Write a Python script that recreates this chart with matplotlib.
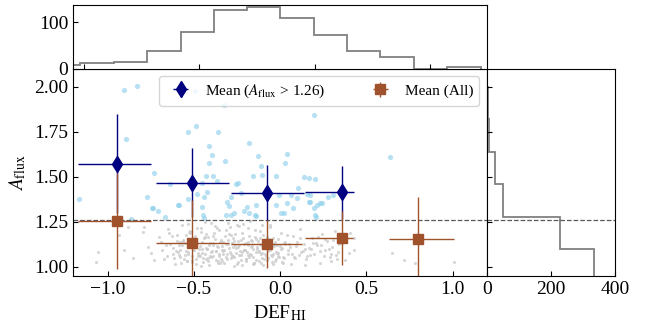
import matplotlib
matplotlib.use("Agg")
import matplotlib.pyplot as plt

plt.rcParams["font.family"] = "serif"
plt.rcParams["font.serif"] = ["Liberation Serif", "DejaVu Serif"]
plt.rcParams["mathtext.fontset"] = "stix"
plt.rcParams["xtick.direction"] = "in"
plt.rcParams["ytick.direction"] = "in"

# --- scatter points (DEF_HI, A_flux) ---
blue_def = [-1.164, -0.903, -0.829, -0.895, -0.729, -0.772, -0.743, -0.710, -0.668, -0.637,
            -0.589, -0.536, -0.487, -0.531, -0.479, -0.450, -0.440, -0.452, -0.421, -0.431,
            -0.389, -0.413, -0.394, -0.409, -0.357, -0.319, -0.367, -0.325, -0.492, -0.305,
            -0.294, -0.311, -0.257, -0.244, -0.286, -0.228, -0.180, -0.157, -0.126, -0.113,
            -0.105, -0.194, -0.142, -0.267, -0.209, -0.182, -0.140, -0.022, -0.007, 0.026,
            0.042, -0.026, 0.003, 0.022, 0.065, 0.103, 0.138, 0.166, 0.201, 0.195,
            0.099, 0.157, 0.176, 0.215, 0.244, 0.042, 0.074, 0.199, 0.635, 0.307,
            0.279, 0.171, 0.209, -0.739, -0.585, -0.448, -0.440, -0.286, -0.147, 0.166,
            0.234, 0.205, -0.864]
blue_aflux = [1.374, 1.982, 2.004, 1.708, 1.519, 1.386, 1.328, 1.306, 1.278, 1.459,
              1.344, 1.748, 1.782, 1.374, 1.404, 1.333, 1.389, 1.467, 1.415, 1.504,
              1.504, 1.671, 1.619, 1.578, 1.750, 1.589, 1.478, 1.900, 1.978, 1.357,
              1.339, 1.287, 1.459, 1.467, 1.386, 1.408, 1.689, 1.504, 1.617, 1.559,
              1.508, 1.333, 1.341, 1.296, 1.306, 1.296, 1.282, 1.504, 1.400, 1.578,
              1.626, 1.343, 1.296, 1.300, 1.398, 1.436, 1.497, 1.491, 1.489, 1.843,
              1.380, 1.404, 1.397, 1.343, 1.352, 1.352, 1.324, 1.324, 1.608, 1.397,
              1.386, 1.356, 1.278, 1.324, 1.343, 1.287, 1.269, 1.287, 1.287, 1.361,
              1.352, 1.287, 1.263]

gray_def = [-1.057, -1.066, -0.932, -0.903, -0.854, -0.796, -0.787, -0.768, -0.749, -0.729,
            -0.854, -0.883, 0.649, 0.716, 0.783, 1.009, 0.408, 0.427, 0.427, 0.398,
            -0.703, -0.684, -0.671, -0.648, -0.637, -0.623, -0.607, -0.596, -0.588, -0.579,
            -0.566, -0.561, -0.547, -0.538, -0.529, -0.517, -0.508, -0.497, -0.489, -0.481,
            -0.468, -0.459, -0.451, -0.437, -0.428, -0.419, -0.411, -0.398, -0.391, -0.377,
            -0.369, -0.361, -0.352, -0.339, -0.331, -0.318, -0.309, -0.297, -0.291, -0.279,
            -0.268, -0.262, -0.249, -0.241, -0.229, -0.218, -0.212, -0.198, -0.187, -0.178,
            -0.171, -0.159, -0.147, -0.139, -0.128, -0.121, -0.108, -0.097, -0.088, -0.081,
            -0.069, -0.058, -0.051, -0.038, -0.031, -0.018, -0.009, 0.004, 0.017, 0.031,
            0.048, 0.061, 0.077, 0.092, 0.108, 0.118, 0.139, 0.152, 0.168, 0.183,
            0.197, 0.212, 0.229, 0.241, 0.258, 0.271, 0.288, 0.302, 0.318, 0.337,
            0.361, 0.377, -0.661, -0.628, -0.593, -0.572, -0.551, -0.522, -0.503, -0.482,
            -0.463, -0.441, -0.422, -0.402, -0.382, -0.358, -0.342, -0.322, -0.302, -0.283,
            -0.259, -0.238, -0.221, -0.203, -0.181, -0.162, -0.141, -0.119, -0.102, -0.079,
            -0.062, -0.042, -0.021, 0.012, 0.038, 0.072, 0.101, 0.131, 0.158, 0.191,
            0.219, 0.252, 0.281, 0.309, 0.331, 0.352, -0.618, -0.577, -0.532, -0.493,
            -0.452, -0.428, -0.389, -0.351, -0.328, -0.292, -0.271, -0.232, -0.209, -0.191,
            -0.168, -0.131, -0.112, -0.091, -0.071, -0.029, -0.011, 0.022, 0.058, 0.121,
            0.178, 0.238, 0.298, -0.612, -0.541, -0.472, -0.398, -0.336, -0.277, -0.196,
            -0.151, -0.073, 0.009, 0.087, 0.142,
            # dense core, second pass
            -0.583, -0.571, -0.556, -0.543, -0.534, -0.519, -0.511, -0.501, -0.486, -0.474,
            -0.466, -0.455, -0.444, -0.433, -0.426, -0.415, -0.406, -0.394, -0.386, -0.373,
            -0.364, -0.356, -0.344, -0.335, -0.326, -0.314, -0.305, -0.294, -0.286, -0.274,
            -0.265, -0.254, -0.246, -0.235, -0.226, -0.214, -0.206, -0.195, -0.184, -0.175,
            -0.164, -0.154, -0.144, -0.135, -0.124, -0.115, -0.104, -0.094, -0.084, -0.075,
            -0.066, -0.055, -0.046, -0.035, -0.025, -0.014, -0.004, 0.007, 0.026, 0.044,
            -0.578, -0.562, -0.549, -0.527, -0.513, -0.494, -0.478, -0.461, -0.447, -0.431,
            -0.417, -0.404, -0.388, -0.371, -0.357, -0.346, -0.329, -0.312, -0.299, -0.284,
            -0.271, -0.257, -0.243, -0.227, -0.211, -0.199, -0.183, -0.169, -0.153, -0.138,
            -0.122, -0.109, -0.092, -0.078, -0.061, -0.047, -0.033, -0.016, 0.002, 0.021,
            -0.689, -0.654, -0.642, -0.604, -0.598, 0.054, 0.083, 0.114, 0.146, 0.173,
            0.206, 0.233, 0.263, 0.294, 0.323, 0.344, -0.524, -0.456, -0.379, -0.313,
            -0.252, -0.187, -0.117, -0.057, -0.488, -0.409, -0.347, -0.264, -0.223, -0.158,
            -0.098, -0.043, 0.016, -0.536, -0.436, -0.366, -0.303, -0.236, -0.172, -0.106]
gray_aflux = [1.083, 1.028, 1.176, 1.093, 1.046, 1.194, 1.222, 1.111, 1.074, 1.037,
              1.259, 1.222, 1.078, 1.037, 1.018, 1.026, 1.185, 1.158, 1.093, 1.074,
              1.162, 1.093, 1.041, 1.208, 1.127, 1.068, 1.012, 1.178, 1.118, 1.053,
              1.232, 1.148, 1.087, 1.031, 1.192, 1.109, 1.061, 1.158, 1.043, 1.212,
              1.097, 1.004, 1.138, 1.072, 1.183, 1.029, 1.121, 1.241, 1.058, 1.152,
              1.089, 1.021, 1.201, 1.117, 1.069, 1.168, 1.042, 1.103, 1.219, 1.132,
              1.051, 1.181, 1.014, 1.108, 1.149, 1.081, 1.238, 1.032, 1.122, 1.171,
              1.062, 1.098, 1.203, 1.039, 1.141, 1.087, 1.022, 1.178, 1.071, 1.128,
              1.049, 1.222, 1.101, 1.161, 1.032, 1.119, 1.078, 1.188, 1.052, 1.139,
              1.091, 1.013, 1.169, 1.112, 1.063, 1.209, 1.128, 1.041, 1.102, 1.158,
              1.072, 1.121, 1.022, 1.179, 1.092, 1.141, 1.053, 1.109, 1.198, 1.082,
              1.131, 1.034, 1.118, 1.168, 1.081, 1.022, 1.129, 1.198, 1.092, 1.131,
              1.061, 1.159, 1.099, 1.052, 1.188, 1.109, 1.042, 1.093, 1.149, 1.068,
              1.118, 1.062, 1.189, 1.091, 1.052, 1.141, 1.079, 1.161, 1.048, 1.102,
              1.152, 1.071, 1.041, 1.101, 1.178, 1.069, 1.139, 1.088, 1.059, 1.131,
              1.162, 1.061, 1.099, 1.148, 1.041, 1.171, 1.101, 1.139, 1.069, 1.169,
              1.099, 1.041, 1.129, 1.071, 1.138, 1.079, 1.161, 1.089, 1.128, 1.079,
              1.149, 1.109, 1.068, 1.148, 1.088, 1.139, 1.058, 1.129, 1.109, 1.079,
              1.098, 1.118, 1.068, 1.048, 1.033, 1.062, 1.081, 1.029, 1.058, 1.044,
              1.019, 1.037, 1.027, 1.049, 1.009,
              1.064, 1.121, 1.043, 1.173, 1.082, 1.137, 1.026, 1.094, 1.151, 1.058,
              1.116, 1.073, 1.024, 1.162, 1.098, 1.047, 1.129, 1.084, 1.172, 1.036,
              1.113, 1.059, 1.146, 1.092, 1.018, 1.127, 1.068, 1.183, 1.049, 1.106,
              1.142, 1.077, 1.028, 1.119, 1.063, 1.156, 1.094, 1.042, 1.134, 1.071,
              1.113, 1.051, 1.167, 1.098, 1.031, 1.124, 1.076, 1.146, 1.058, 1.104,
              1.139, 1.067, 1.027, 1.115, 1.082, 1.151, 1.054, 1.096, 1.124, 1.068,
              1.091, 1.143, 1.062, 1.111, 1.036, 1.127, 1.073, 1.194, 1.046, 1.102,
              1.164, 1.056, 1.118, 1.089, 1.029, 1.137, 1.084, 1.053, 1.123, 1.176,
              1.061, 1.104, 1.143, 1.037, 1.091, 1.132, 1.064, 1.109, 1.021, 1.153,
              1.081, 1.118, 1.044, 1.167, 1.093, 1.057, 1.126, 1.074, 1.112, 1.046,
              1.138, 1.058, 1.189, 1.088, 1.144, 1.123, 1.052, 1.158, 1.097, 1.064,
              1.133, 1.086, 1.152, 1.029, 1.067, 1.124, 1.184, 1.217, 1.226, 1.204,
              1.231, 1.212, 1.196, 1.229, 1.014, 1.008, 1.019, 1.003, 1.011, 1.016,
              1.006, 1.012, 1.021, 1.236, 1.248, 1.213, 1.244, 1.224, 1.251, 1.233]

# --- binned means (x, y, x-errors low/high, y-errors) ---
mean_hi_x = [-0.945, -0.512, -0.074, 0.360]
mean_hi_y = [1.572, 1.467, 1.408, 1.413]
mean_hi_xlo = [0.229, 0.208, 0.212, 0.213]
mean_hi_xhi = [0.199, 0.216, 0.212, 0.067]
mean_hi_yerr = [0.276, 0.194, 0.157, 0.146]

mean_all_x = [-0.945, -0.508, -0.074, 0.360, 0.797]
mean_all_y = [1.254, 1.133, 1.126, 1.158, 1.154]
mean_all_xlo = [0.229, 0.212, 0.212, 0.213, 0.168]
mean_all_xhi = [0.199, 0.212, 0.202, 0.065, 0.212]
mean_all_yerr = [0.265, 0.235, 0.135, 0.150, 0.235]

# --- marginal histograms ---
top_edges = [-1.160, -1.016, -0.871, -0.727, -0.582, -0.438, -0.293, -0.149, -0.004,
             0.141, 0.285, 0.430, 0.574, 0.719]
top_counts = [7, 12, 14, 39, 80, 127, 132, 110, 73, 37, 26, 0, 4]

right_edges = [0.915, 1.096, 1.277, 1.458, 1.639, 1.820, 2.000]
right_counts = [336, 229, 50, 25, 6, 4]

cut = 1.26

fig = plt.figure(figsize=(6.52, 3.25), dpi=100)
ax = fig.add_axes([0.112, 0.151, 0.635, 0.638])
ax_top = fig.add_axes([0.112, 0.789, 0.635, 0.1965])
ax_right = fig.add_axes([0.747, 0.151, 0.196, 0.638])

ax.scatter(gray_def, gray_aflux, s=5, color="#cccccc", alpha=0.8, lw=0, zorder=1)
ax.scatter(blue_def, blue_aflux, s=14, color="skyblue", alpha=0.6, lw=0, zorder=1)
ax.axhline(cut, color="0.35", ls="--", lw=0.9, zorder=2)

ax.errorbar(mean_hi_x, mean_hi_y, xerr=[mean_hi_xlo, mean_hi_xhi], yerr=mean_hi_yerr,
            fmt="d", color="navy", ms=8, elinewidth=1, capsize=0, zorder=3,
            label=r"Mean ($A_{\rm flux}$ > 1.26)")
ax.errorbar(mean_all_x, mean_all_y, xerr=[mean_all_xlo, mean_all_xhi], yerr=mean_all_yerr,
            fmt="s", color="sienna", ms=7, elinewidth=1, capsize=0, zorder=4,
            label="Mean (All)")

ax.set_xlim(-1.2, 1.2)
ax.set_ylim(0.948, 2.1)
ax.set_xticks([-1.0, -0.5, 0.0, 0.5, 1.0])
ax.set_yticks([1.0, 1.25, 1.5, 1.75, 2.0])
ax.tick_params(labelsize=14)
ax.set_xlabel(r"DEF$_{\rm HI}$", fontsize=14)
ax.set_ylabel(r"$A_{\rm flux}$", fontsize=14)
ax.legend(loc="upper right", ncol=2, fontsize=11, borderaxespad=0.5,
          columnspacing=2.6, handletextpad=0.6)

ax_top.stairs(top_counts, top_edges, color="gray", lw=1.3)
ax_top.set_xlim(-1.048, 0.747)
ax_top.set_ylim(0, 138)
ax_top.set_xticks([-1.0, -0.5, 0.0, 0.5])
ax_top.set_xticklabels([])
ax_top.set_yticks([0, 100])
ax_top.tick_params(labelsize=14)

ax_right.stairs(right_counts, right_edges, orientation="horizontal", color="gray", lw=1.3)
ax_right.axhline(cut, color="0.35", ls="--", lw=0.9)
ax_right.set_ylim(0.948, 2.1)
ax_right.set_xlim(0, 400)
ax_right.set_xticks([0, 200, 400])
ax_right.set_yticks([1.0, 1.25, 1.5, 1.75, 2.0])
ax_right.set_yticklabels([])
ax_right.tick_params(labelsize=14)

fig.savefig("out.png", dpi=100)
